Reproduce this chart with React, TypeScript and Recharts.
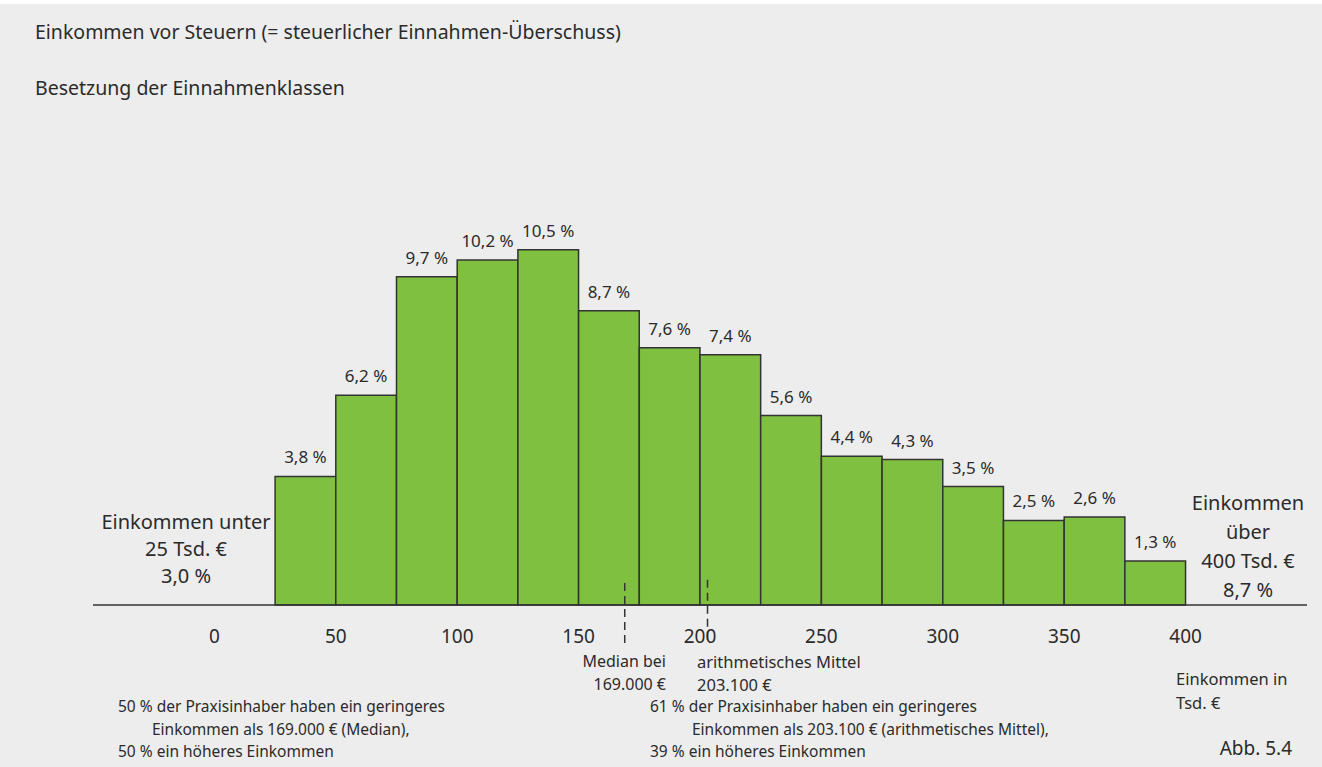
import { Bar, ComposedChart, LabelList, ReferenceLine, XAxis, YAxis } from "recharts";

// income classes (Tsd. €), class midpoints, share of practice owners in %
const classMid = [37.5, 62.5, 87.5, 112.5, 137.5, 162.5, 187.5, 212.5, 237.5, 262.5, 287.5, 312.5, 337.5, 362.5, 387.5];
const share = [3.8, 6.2, 9.7, 10.2, 10.5, 8.7, 7.6, 7.4, 5.6, 4.4, 4.3, 3.5, 2.5, 2.6, 1.3];
const xTicks = [0, 50, 100, 150, 200, 250, 300, 350, 400];
const median = 169;
const mean = 203.1;

const data = classMid.map((mid, i) => ({ mid, share: share[i] }));

const W = 1322;
const H = 767;
const FONT = "'Noto Sans', sans-serif";
const INK = "#2b2b2b";
const M = { top: 199, right: 15, left: 93, bottom: 132 };
const X_DOMAIN: [number, number] = [-50, 450];
const pxPerUnit = (W - M.left - M.right) / (X_DOMAIN[1] - X_DOMAIN[0]);

const fmt = (v: number) => `${v.toFixed(1).replace(".", ",")} %`;

function Tick({ x, y, payload }: any) {
  return (
    <text x={x} y={y + 30} textAnchor="middle" fontSize={19} fill={INK} fontFamily={FONT}>
      {payload.value}
    </text>
  );
}

const abs = (style: React.CSSProperties) => ({ position: "absolute" as const, whiteSpace: "nowrap" as const, ...style });

export default function App() {
  return (
    <div
      style={{
        position: "fixed",
        left: 0,
        top: 0,
        width: W,
        height: H,
        background: "#ededed",
        fontFamily: FONT,
        color: INK,
      }}
    >
      <div style={{ position: "absolute", left: 0, top: 0, width: W, height: 4, background: "#fff" }} />
      <div style={abs({ left: 35, top: 19, fontSize: 19.5, lineHeight: "26px" })}>
        Einkommen vor Steuern (= steuerlicher Einnahmen-Überschuss)
      </div>
      <div style={abs({ left: 35, top: 75, fontSize: 19.5, lineHeight: "26px" })}>Besetzung der Einnahmenklassen</div>

      <div style={{ position: "absolute", left: 0, top: 0 }}>
        <ComposedChart width={W} height={H} data={data} margin={M} barCategoryGap={0} barGap={0}>
          <XAxis
            dataKey="mid"
            type="number"
            domain={X_DOMAIN}
            ticks={xTicks}
            interval={0}
            tickLine={false}
            axisLine={{ stroke: "#333", strokeWidth: 1.5 }}
            tick={<Tick />}
            height={30}
          />
          <YAxis hide domain={[0, 12]} />
          <Bar
            dataKey="share"
            fill="#80c040"
            stroke="#333"
            strokeWidth={1.5}
            barSize={25 * pxPerUnit - 0.05}
            isAnimationActive={false}
          >
            <LabelList
              dataKey="share"
              position="top"
              offset={13}
              formatter={(v: any) => fmt(Number(v))}
              style={{ fontSize: 17, fill: INK, fontFamily: FONT }}
            />
          </Bar>
          <ReferenceLine
            segment={[
              { x: median, y: 0.65 },
              { x: median, y: -1.2 },
            ]}
            ifOverflow="visible"
            stroke="#333"
            strokeWidth={1.5}
            strokeDasharray="8 5"
          />
          <ReferenceLine
            segment={[
              { x: mean, y: 0.75 },
              { x: mean, y: -1.1 },
            ]}
            ifOverflow="visible"
            stroke="#333"
            strokeWidth={1.5}
            strokeDasharray="8 5"
          />
        </ComposedChart>
      </div>

      <div style={abs({ left: 83, width: 206, top: 508, fontSize: 20, lineHeight: "27px", textAlign: "center" })}>
        Einkommen unter
        <br />
        25 Tsd. €
        <br />
        3,0 %
      </div>
      <div style={abs({ left: 1188, width: 120, top: 488, fontSize: 20, lineHeight: "29px", textAlign: "center" })}>
        Einkommen
        <br />
        über
        <br />
        400 Tsd. €
        <br />
        8,7 %
      </div>

      <div style={abs({ right: W - 666, top: 650, fontSize: 16, lineHeight: "23px", textAlign: "right" })}>
        Median bei
        <br />
        169.000 €
      </div>
      <div style={abs({ left: 697, top: 650, fontSize: 16.5, lineHeight: "23px" })}>
        arithmetisches Mittel
        <br />
        203.100 €
      </div>

      <div style={abs({ left: 1176, top: 667, fontSize: 16.5, lineHeight: "24px" })}>
        Einkommen in
        <br />
        Tsd. €
      </div>

      <div style={abs({ left: 118, top: 695, fontSize: 15.5, lineHeight: "22.5px" })}>
        50 % der Praxisinhaber haben ein geringeres
        <br />
        <span style={{ marginLeft: 34 }}>Einkommen als 169.000 € (Median),</span>
        <br />
        50 % ein höheres Einkommen
      </div>
      <div style={abs({ left: 650, top: 695, fontSize: 15.5, lineHeight: "22.5px" })}>
        61 % der Praxisinhaber haben ein geringeres
        <br />
        <span style={{ marginLeft: 42 }}>Einkommen als 203.100 € (arithmetisches Mittel),</span>
        <br />
        39 % ein höheres Einkommen
      </div>

      <div style={abs({ right: 30, top: 735, fontSize: 19, lineHeight: "26px" })}>Abb. 5.4</div>
    </div>
  );
}
